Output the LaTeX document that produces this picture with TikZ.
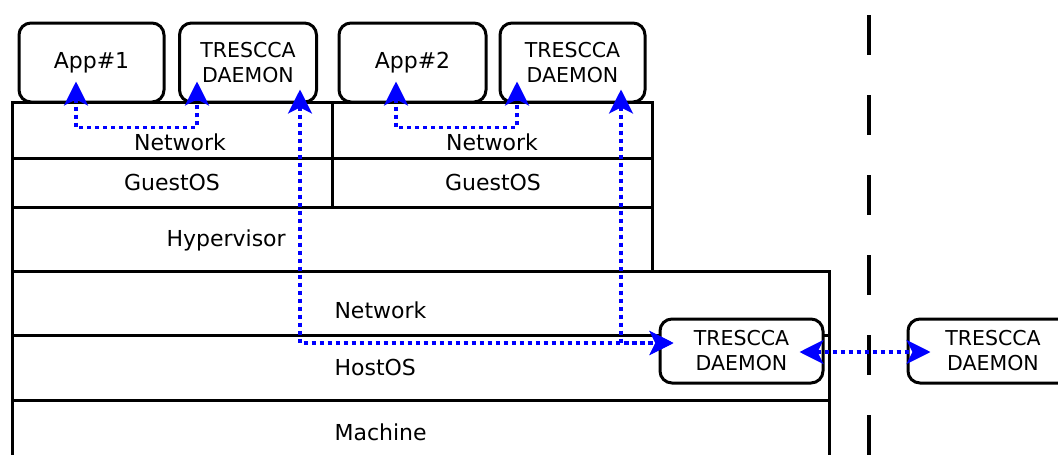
\documentclass[tikz,border=0pt]{standalone}
\usepackage{fontspec}
\setmainfont{DejaVu Sans}
\usetikzlibrary{arrows.meta}

\tikzset{
  box/.style={draw, fill=white, line width=3pt, rounded corners=12pt,
              align=center, inner sep=0pt},
  layer/.style={draw, line width=3pt},
  tag/.style={font=\fontsize{22}{26}\selectfont},
  dmn/.style={box, font=\fontsize{20.5}{25}\selectfont},
  link/.style={blue, line width=3.2pt, dash pattern=on 4pt off 4pt,
               {Stealth[length=24pt,width=24pt,inset=6pt]}-{Stealth[length=24pt,width=24pt,inset=6pt]}},
}

\begin{document}
\begin{tikzpicture}[x=1pt, y=-1pt]
                  \useasboundingbox (0,0) rectangle (1058,455);

                  % Guest layers of the two VMs
                  \draw[layer] (12,102) rectangle (332,158);
                  \draw[layer] (12,158) rectangle (332,207);
                  \draw[layer] (332,102) rectangle (652,158);
                  \draw[layer] (332,158) rectangle (652,207);
                  \node[tag] (gnet1) at (180,142) {Network};
                  \node[tag] (gos1) at (172,182) {GuestOS};
                  \node[tag] (gnet2) at (492,142) {Network};
                  \node[tag] (gos2) at (493,182) {GuestOS};

                  % Hypervisor
                  \draw[layer] (12,207) rectangle (652,271);
                  \node[tag, anchor=west] (hyp) at (163,240) {Hypervisor};

                  % Host layers
                  \draw[layer] (12,271) rectangle (829,335);
                  \draw[layer] (12,335) rectangle (829,400);
                  \draw[layer] (12,400) rectangle (829,470);
                  \node[tag, anchor=west] (hnet) at (331,310) {Network};
                  \node[tag, anchor=west] (hos) at (331,367) {HostOS};
                  \node[tag, anchor=west] (mach) at (331,432) {Machine};

                  % Apps and daemons
                  \node[box, tag, minimum width=145pt, minimum height=79pt] (app1) at (91.5,62.5) {App\#1};
                  \node[dmn, minimum width=137pt, minimum height=79pt] (dmn1) at (248,62.5) {TRESCCA\\DAEMON};
                  \node[box, tag, minimum width=147pt, minimum height=79pt] (app2) at (412.5,62.5) {App\#2};
                  \node[dmn, minimum width=145pt, minimum height=79pt] (dmn2) at (572.5,62.5) {TRESCCA\\DAEMON};
                  \node[dmn, minimum width=163pt, minimum height=64pt] (hostdmn) at (741.5,351) {TRESCCA\\DAEMON};
                  \node[dmn, minimum width=170pt, minimum height=64pt] (remdmn) at (993,351) {TRESCCA\\DAEMON};

                  % Machine boundary
                  \draw[line width=4pt, dash pattern=on 40pt off 40pt] (869,15) -- (869,460);

                  % Links inside each VM
                  \draw[link] ([xshift=-15.5pt,yshift=22pt]app1.south) -- ++(0,46) -| ([xshift=-51pt,yshift=22pt]dmn1.south);
                  \draw[link] ([xshift=-16.5pt,yshift=22pt]app2.south) -- ++(0,46) -| ([xshift=-55.5pt,yshift=22pt]dmn2.south);

                  % Links from guest daemons to host daemon
                  \draw[link] ([xshift=52pt,yshift=14pt]dmn1.south) |- ([xshift=15pt,yshift=8pt]hostdmn.west);
                  \draw[link] ([xshift=48.5pt,yshift=14pt]dmn2.south) |- ([xshift=15pt,yshift=8pt]hostdmn.west);

                  % Link to the remote daemon
                  \draw[link] ([xshift=-25pt,yshift=-1pt]hostdmn.east) -- ([xshift=24pt,yshift=-1pt]remdmn.west);
\end{tikzpicture}
\end{document}
